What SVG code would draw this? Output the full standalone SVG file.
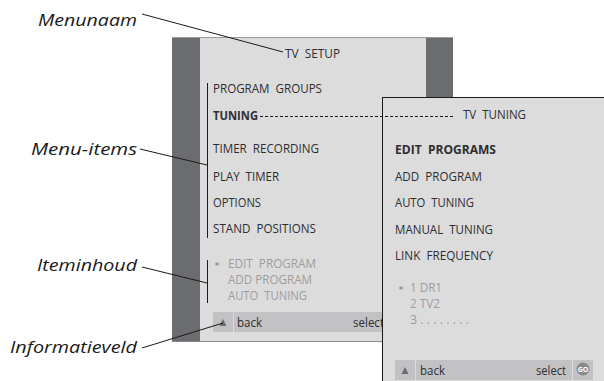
<svg xmlns="http://www.w3.org/2000/svg" width="604" height="381" viewBox="0 0 604 381" xml:space="preserve">
<defs>
<style>
text{white-space:pre}
.m{font-family:"Open Sans","Liberation Sans",sans-serif;font-size:13px;fill:#2e2e30}
.b{font-weight:bold}
.g{font-family:"Open Sans","Liberation Sans",sans-serif;font-size:12.5px;fill:#9c9c9e}
.lab{font-family:"Open Sans","Liberation Sans",sans-serif;font-size:17px;font-style:italic;fill:#1a1a1a}
.lead{stroke:#1a1a1a;stroke-width:1;fill:none}
.dark{fill:#6b6c70}
.light{fill:#dcdcdd}
.bar{fill:#c2c2c4}
</style>
</defs>
<rect width="604" height="381" fill="#ffffff"/>
<g id="panel-tv-setup">
<rect class="dark" x="172" y="37" width="281" height="305"/>
<rect class="light" x="200" y="37" width="226" height="305"/>
<line x1="172" y1="37.5" x2="453" y2="37.5" stroke="#9a9a9c"/>
<line x1="172" y1="341.5" x2="426" y2="341.5" stroke="#8a8a8c"/>
<text class="m" x="285" y="58" textLength="55" lengthAdjust="spacingAndGlyphs">TV  SETUP</text>
<text class="m" x="213" y="93" textLength="109" lengthAdjust="spacingAndGlyphs">PROGRAM  GROUPS</text>
<text class="m b" x="213" y="120" textLength="45" lengthAdjust="spacingAndGlyphs">TUNING</text>
<text class="m" x="213" y="153" textLength="106" lengthAdjust="spacingAndGlyphs">TIMER  RECORDING</text>
<text class="m" x="213" y="181" textLength="66" lengthAdjust="spacingAndGlyphs">PLAY  TIMER</text>
<text class="m" x="213" y="207" textLength="48" lengthAdjust="spacingAndGlyphs">OPTIONS</text>
<text class="m" x="213" y="233" textLength="103" lengthAdjust="spacingAndGlyphs">STAND  POSITIONS</text>
<circle cx="217" cy="264" r="1.8" fill="#9c9c9e"/>
<text class="g" x="228" y="268" textLength="88" lengthAdjust="spacingAndGlyphs">EDIT  PROGRAM</text>
<text class="g" x="228" y="284" textLength="84" lengthAdjust="spacingAndGlyphs">ADD PROGRAM</text>
<text class="g" x="228" y="300" textLength="79" lengthAdjust="spacingAndGlyphs">AUTO  TUNING</text>
<rect class="bar" x="213" y="312" width="20" height="20"/>
<rect class="bar" x="234" y="312" width="170" height="20"/>
<path d="M219.5 326 L223 319 L226.5 326 Z" fill="#6b6c70"/>
<text class="m" x="237" y="327" textLength="25" lengthAdjust="spacingAndGlyphs">back</text>
<text class="m" x="353" y="327" textLength="31" lengthAdjust="spacingAndGlyphs">select</text>
</g>
<g id="panel-tv-tuning">
<rect class="light" x="382" y="97" width="222" height="284"/>
<line x1="382" y1="97.5" x2="604" y2="97.5" stroke="#1a1a1a"/>
<line x1="382.5" y1="97" x2="382.5" y2="381" stroke="#1a1a1a"/>
<text class="m" x="463" y="119" textLength="63" lengthAdjust="spacingAndGlyphs">TV  TUNING</text>
<text class="m b" x="395" y="154" textLength="101" lengthAdjust="spacingAndGlyphs">EDIT  PROGRAMS</text>
<text class="m" x="395" y="181" textLength="87" lengthAdjust="spacingAndGlyphs">ADD  PROGRAM</text>
<text class="m" x="395" y="207" textLength="79" lengthAdjust="spacingAndGlyphs">AUTO  TUNING</text>
<text class="m" x="395" y="234" textLength="98" lengthAdjust="spacingAndGlyphs">MANUAL  TUNING</text>
<text class="m" x="395" y="260" textLength="98" lengthAdjust="spacingAndGlyphs">LINK  FREQUENCY</text>
<circle cx="401" cy="288" r="1.8" fill="#9c9c9e"/>
<text class="g" x="410" y="292" textLength="32" lengthAdjust="spacingAndGlyphs">1 DR1</text>
<text class="g" x="410" y="308" textLength="30" lengthAdjust="spacingAndGlyphs">2 TV2</text>
<text class="g" x="410" y="324" textLength="59" lengthAdjust="spacingAndGlyphs">3 . . . . . . . .</text>
<rect class="bar" x="395" y="360" width="20" height="20"/>
<rect class="bar" x="416" y="360" width="156" height="20"/>
<rect class="bar" x="573" y="360" width="20" height="20"/>
<path d="M401.5 374 L405 367 L408.5 374 Z" fill="#6b6c70"/>
<text class="m" x="420" y="375" textLength="25" lengthAdjust="spacingAndGlyphs">back</text>
<text class="m" x="536" y="375" textLength="30" lengthAdjust="spacingAndGlyphs">select</text>
<circle cx="583" cy="369" r="6.5" fill="#8a8a8c"/>
<text x="583" y="371.5" text-anchor="middle" font-family="Open Sans, Liberation Sans, sans-serif" font-size="7" font-weight="bold" fill="#ffffff">GO</text>
</g>
<g id="labels">
<text class="lab" x="38" y="26" textLength="99" lengthAdjust="spacingAndGlyphs">Menunaam</text>
<text class="lab" x="31" y="155" textLength="106" lengthAdjust="spacingAndGlyphs">Menu-items</text>
<text class="lab" x="37" y="271" textLength="100" lengthAdjust="spacingAndGlyphs">Iteminhoud</text>
<text class="lab" x="10" y="353" textLength="127" lengthAdjust="spacingAndGlyphs">Informatieveld</text>
</g>
<g id="connectors">
<line class="lead" x1="142" y1="14" x2="283" y2="52"/>
<line class="lead" x1="140" y1="149" x2="207" y2="165"/>
<line class="lead" x1="142" y1="267" x2="207" y2="283"/>
<line class="lead" x1="142" y1="348" x2="223" y2="323"/>
<line class="lead" x1="207.5" y1="83" x2="207.5" y2="238"/>
<line class="lead" x1="207.5" y1="260" x2="207.5" y2="303"/>
<line class="lead" x1="260" y1="116.5" x2="453" y2="116.5" stroke-dasharray="3,2"/>
</g>
</svg>
